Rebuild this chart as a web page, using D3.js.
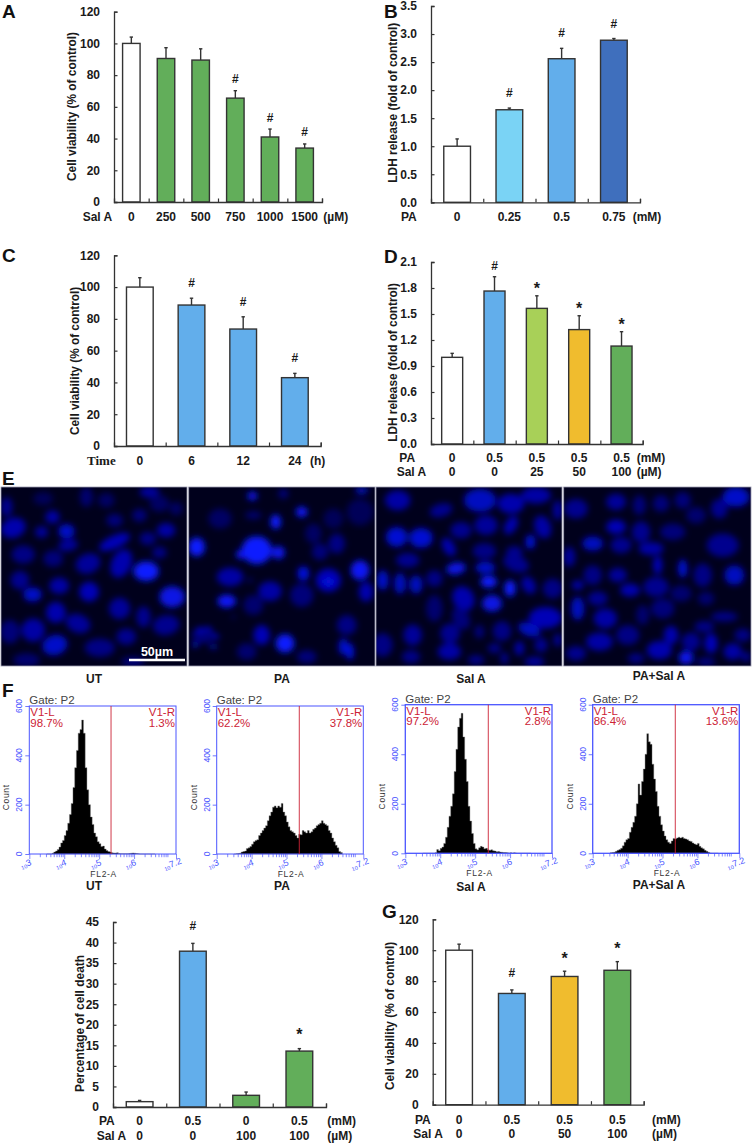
<!DOCTYPE html>
<html>
<head>
<meta charset="utf-8">
<script src="https://cdnjs.cloudflare.com/ajax/libs/d3/7.8.5/d3.min.js"></script>
<style>
  html, body { margin: 0; padding: 0; background: #fff; }
  svg { display: block; }
  text { font-family: "Liberation Sans", Arial, sans-serif; }
</style>
</head>
<body>
<svg id="fig" width="752" height="1144"></svg>
<script>
// bar panels
const doseA = ['0', '250', '500', '750', '1000', '1500'];
const meanA = [100, 90.5, 89.5, 65.5, 41, 34];
const errA = [4, 6.8, 7.1, 4.7, 5, 2.6];
const markA = ['', '', '', '#', '#', '#'];

const doseB = ['0', '0.25', '0.5', '0.75'];
const meanB = [1.0, 1.65, 2.56, 2.89];
const errB = [0.13, 0.03, 0.185, 0.03];
const markB = ['', '#', '#', '#'];

const timeC = ['0', '6', '12', '24'];
const meanC = [100, 88.7, 73.6, 43];
const errC = [5.9, 4.3, 7.7, 2.7];
const markC = ['', '#', '#', '#'];

const paD = ['0', '0.5', '0.5', '0.5', '0.5'];
const salD = ['0', '0', '25', '50', '100'];
const meanD = [1.0, 1.765, 1.565, 1.32, 1.13];
const errD = [0.046, 0.165, 0.145, 0.16, 0.166];
const markD = ['', '#', '*', '*', '*'];

const paF = ['0', '0.5', '0', '0.5'];
const salF = ['0', '0', '100', '100'];
const meanF = [1.3, 37.9, 2.84, 13.6];
const errF = [0.3, 1.9, 0.8, 0.6];
const markF = ['', '#', '', '*'];

const paG = ['0', '0.5', '0.5', '0.5'];
const salG = ['0', '0', '50', '100'];
const meanG = [100, 72, 83, 87];
const errG = [3.9, 2.3, 3.4, 5.6];
const markG = ['', '#', '*', '*'];

// flow histograms: count per bin, bins start at log10 = 3.5 and step 0.05
const histStart = 3.5, histStep = 0.05;
const histUT = [0,0,0,3,8,12,18,28,45,55,75,95,125,160,205,270,350,420,490,505,543,490,350,260,200,150,120,85,70,50,42,30,32,20,14,10,8,5,4,4,5,2,1,1,1,1,1,2,3,4,3,2,1,0,0,0,0,0,0,0,0,0,0];
const histPA = [0,1,2,3,8,10,12,22,25,30,40,50,55,58,75,85,95,105,115,135,155,170,190,195,188,195,190,205,170,155,130,110,95,90,85,75,65,80,78,95,90,85,95,85,90,100,105,115,120,125,135,125,120,115,95,85,65,50,35,25,10,6,2];
const histSal = [0,0,0,0,0,0,0,2,15,10,20,25,40,65,105,150,190,240,330,420,510,545,565,470,380,290,190,130,80,40,18,14,22,28,25,18,20,14,12,14,10,9,6,7,5,4,3,3,2,1,2,1,2,1,0,0,0,0,0,0,0,0,0];
const histCombo = [2,3,4,8,12,15,20,30,45,55,60,85,105,125,150,200,280,235,290,340,400,483,450,440,360,300,250,190,150,115,90,70,55,45,40,50,60,58,62,65,62,65,60,58,55,50,48,42,38,35,40,28,22,18,12,8,4,1,0,0,0,0,0];
const flowHists = [histUT, histPA, histSal, histCombo];
const gateLogs = [5.34, 5.366, 5.376, 5.366];
const leftPct = ['98.7%', '62.2%', '97.2%', '86.4%'];
const rightPct = ['1.3%', '37.8%', '2.8%', '13.6%'];
const sampleNames = ['UT', 'PA', 'Sal A', 'PA+Sal A'];
const countTicks = [0, 200, 400, 600];
const majorLogs = [3, 4, 5, 6, 7.2];
const logTickText = ['3', '4', '5', '6', '7.2'];
const minorCounts = [2, 3, 4, 5, 6, 7, 8, 9];

// nuclei: x, y, rx, ry, brightness, angle
const nucleiUT = [[40,188,38,30,.55,-20],[158,155,22,20,.5],[125,200,20,18,.45],[200,198,25,22,.7],[205,240,30,18,.45,-10],[345,230,50,20,.6,-25],[500,195,28,22,.5],[445,220,25,20,.35],[70,268,35,28,.35],[160,280,30,25,.3],[265,295,38,30,.45,-20],[365,295,30,45,.55,25],[440,318,38,30,1],[480,262,22,18,.35],[60,345,28,28,.4],[178,362,30,25,.5],[98,388,28,22,.7],[268,380,30,30,.6],[518,395,38,32,.85],[168,442,30,32,.55],[360,430,32,32,.45],[432,455,22,32,.4],[235,475,38,28,.45,20],[500,480,40,30,.4,-10],[100,495,35,35,.5],[30,500,30,35,.3],[165,540,38,30,.7,-15],[300,548,45,28,.35],[380,515,30,25,.4],[260,95,20,30,.25],[450,80,30,18,.45],[20,125,18,30,.4],[345,165,25,20,.3],[420,150,22,20,.3],[320,105,25,22,.2],[130,100,30,20,.15],[480,115,30,25,.2],[530,130,20,20,.2],[80,585,40,20,.25],[400,590,35,15,.3]];
const nucleiPA = [[757,92,15,13,.95],[905,140,18,16,.95],[827,170,16,22,1],[590,245,25,28,1],[770,255,45,42,1],[722,268,14,14,.95],[835,262,20,20,.9],[690,335,40,28,.5],[910,325,18,22,.8],[985,345,38,35,.6],[1080,315,28,30,.95],[810,378,35,30,.5],[680,408,28,20,.95],[1098,380,22,30,.55],[905,390,35,35,.3],[760,420,30,30,.25],[610,510,35,25,.3],[785,510,25,30,.6],[855,535,28,28,1],[1030,545,15,25,.7],[1050,560,12,25,.8],[960,260,25,25,.3],[1010,235,25,30,.35],[660,160,35,30,.2],[760,150,25,12,.25],[1040,480,30,30,.35],[740,560,30,25,.25],[920,575,30,20,.3],[1085,75,20,8,.95],[850,85,15,15,.3],[1080,140,40,40,.15],[940,205,25,30,.2],[1000,160,30,30,.15],[600,495,7,6,1],[625,490,7,5,1],[650,515,7,6,1],[585,540,9,6,1],[640,545,11,5,1],[700,455,4,4,.8],[750,345,5,5,.85],[985,350,14,10,.85]];
const nucleiSal = [[65,105,38,30,.5],[312,105,48,35,.65],[405,115,40,30,.55],[195,135,35,20,.4,-15],[480,90,45,25,.5],[545,135,15,30,.45],[62,215,32,30,.75],[135,218,35,30,.75],[255,195,32,25,.4],[330,180,35,30,.45],[405,180,18,30,.55,30],[500,185,25,35,.5,-20],[218,245,18,30,.55,-30],[325,258,35,25,.35],[463,230,15,22,.75],[415,262,25,20,.4],[95,285,35,22,.4],[240,310,30,18,.85,-10],[328,308,30,18,.7],[420,295,40,25,.4,20],[20,345,18,30,.7],[72,355,18,32,.65],[120,358,20,28,.65],[175,340,25,25,.35],[338,350,25,18,1],[402,370,17,25,1],[458,360,20,28,.5,-30],[530,370,30,30,.35],[262,400,32,38,.55,-30],[348,415,30,25,.85],[175,430,25,40,.25],[508,458,50,32,.6],[255,460,25,35,.3,-30],[460,493,35,20,.65,20],[110,510,28,32,.45],[222,505,30,30,.4],[378,498,28,30,.35],[20,540,30,35,.35],[105,575,28,20,.35],[220,560,35,25,.5],[310,500,15,20,.3],[430,550,15,22,.5],[495,540,20,22,.4],[355,550,20,15,.35],[300,585,25,15,.35],[475,590,30,15,.45],[545,525,12,20,.45],[385,580,12,18,.4]];
const nucleiCombo = [[600,130,35,30,.4],[720,110,30,25,.45],[790,120,20,30,.3],[855,115,25,25,.3],[920,105,25,25,.3],[1080,95,40,30,.7],[1030,130,25,30,.4],[720,185,30,22,.6],[795,200,28,32,.4],[890,200,38,25,.3],[960,150,30,25,.25],[650,235,32,22,.65],[735,240,32,25,.4],[825,250,38,20,.5],[1040,240,48,35,.4],[580,275,18,30,.45],[845,300,14,28,.6],[920,310,14,28,.75],[980,330,28,35,.35],[1075,330,30,30,.65],[650,330,28,30,.35],[725,330,28,22,.45],[605,360,18,15,.5],[762,375,30,20,.55],[840,365,38,30,.4],[665,400,30,22,.4],[605,430,20,35,.65],[915,385,32,25,.25],[990,400,25,20,.25],[688,460,35,30,.5],[860,430,35,30,.3],[800,450,20,30,.25],[1045,455,40,15,.35],[985,485,30,18,.35],[755,510,35,30,.35],[670,530,40,28,.5],[850,555,38,28,.55],[885,510,22,28,.55],[945,530,28,28,.4],[1005,535,20,30,.6],[1070,560,28,25,.5],[1100,510,25,20,.35],[600,565,30,22,.4],[930,578,22,20,.9],[1110,575,14,15,.4],[780,580,25,15,.35],[990,590,28,12,.35]];

const white = '#ffffff', green = '#62ae5a', sky = '#7ad3f5', blue = '#62aeeb', deep = '#3f6fbd', lime = '#a8d058', amber = '#f0bc2e';
const ink = '#333333', textInk = '#1a1a1a';
const svg = d3.select('#fig');

// panels with their layout on the page
const barPanels = [
  { letter: 'A', lx: 2, ly: 17.5, x0: 114, x1: 322, yTop: 11.7, yBase: 202, max: 120, step: 20, fmt: d3.format('d'),
    means: meanA, errs: errA, marks: markA, colors: [white, green, green, green, green, green], barW: 17.5, markGap: 11.5,
    title: 'Cell viability (% of control)', tx: 71.7, t0: 32, t1: 181,
    rows: [{ name: 'Sal A', nx: 82.7, y: 221, unit: '(µM)', ux: 323.3, vals: doseA }] },
  { letter: 'B', lx: 384, ly: 17.5, x0: 431, x1: 640, yTop: 6, yBase: 202.3, max: 3.5, step: 0.5, fmt: d3.format('.1f'),
    means: meanB, errs: errB, marks: markB, colors: [white, sky, blue, deep], barW: 26.7, markGap: 15,
    title: 'LDH release (fold of control)', tx: 393.3, t0: 22.7, t1: 182.7,
    rows: [{ name: 'PA', nx: 401, y: 221, unit: '(mM)', ux: 632.7, vals: doseB }] },
  { letter: 'C', lx: 2, ly: 261.7, x0: 114, x1: 320.7, yTop: 255.3, yBase: 446, max: 120, step: 20, fmt: d3.format('d'),
    means: meanC, errs: errC, marks: markC, colors: [white, blue, blue, blue], barW: 26.7, markGap: 15,
    title: 'Cell viability (% of control)', tx: 75, t0: 286.7, t1: 435,
    rows: [{ name: 'Time', nx: 87, y: 464.5, unit: '(h)', ux: 310, vals: timeC, serif: true }] },
  { letter: 'D', lx: 384, ly: 262.7, x0: 431, x1: 642.7, yTop: 262, yBase: 444, max: 2.1, step: 0.3, fmt: d3.format('.1f'),
    means: meanD, errs: errD, marks: markD, colors: [white, blue, lime, amber, green], barW: 21, markGap: 11,
    title: 'LDH release (fold of control)', tx: 392.7, t0: 283, t1: 441.7,
    rows: [{ name: 'PA', nx: 399.3, y: 462, unit: '(mM)', ux: 636.7, vals: paD },
           { name: 'Sal A', nx: 396.7, y: 476, unit: '(µM)', ux: 636.7, vals: salD }] },
  { letter: null, x0: 113, x1: 326, yTop: 922, yBase: 1107, max: 45, step: 5, fmt: d3.format('d'),
    means: meanF, errs: errF, marks: markF, colors: [white, blue, green, green], barW: 26.7, markGap: 17.5,
    title: 'Percentage of cell death', tx: 80, t0: 955, t1: 1092,
    rows: [{ name: 'PA', nx: 99, y: 1125, unit: '(mM)', ux: 327.3, vals: paF },
           { name: 'Sal A', nx: 96.7, y: 1139.5, unit: '(µM)', ux: 327.3, vals: salF }] },
  { letter: 'G', lx: 382, ly: 918, x0: 432.7, x1: 643.7, yTop: 919.3, yBase: 1104.7, max: 120, step: 20, fmt: d3.format('d'),
    means: meanG, errs: errG, marks: markG, colors: [white, blue, amber, green], barW: 26.7, markGap: 16.5,
    title: 'Cell viability (% of control)', tx: 390.3, t0: 941.7, t1: 1090,
    rows: [{ name: 'PA', nx: 415, y: 1123.5, unit: '(mM)', ux: 652, vals: paG },
           { name: 'Sal A', nx: 413.3, y: 1137.5, unit: '(µM)', ux: 652, vals: salG }] },
];

barPanels.forEach(drawBarPanel);

function drawBarPanel(p) {
  const g = svg.append('g');
  const n = p.means.length;
  const idx = d3.range(n);
  const x = d3.scaleBand().domain(idx).range([p.x0, p.x1]);
  const y = d3.scaleLinear().domain([0, p.max]).range([p.yBase, p.yTop]);
  const edge = d3.scaleLinear().domain([0, n]).range([p.x0, p.x1]);
  const cx = i => x(i) + x.bandwidth() / 2;

  // error whisker first so the bar outline covers its foot
  const whisker = g.append('g').attr('stroke', ink).attr('stroke-width', 1.4).attr('fill', 'none');
  idx.forEach(i => {
    whisker.append('line').attr('x1', cx(i)).attr('x2', cx(i)).attr('y1', y(p.means[i])).attr('y2', y(p.means[i] + p.errs[i]));
    whisker.append('line').attr('x1', cx(i) - 1.7).attr('x2', cx(i) + 1.7).attr('y1', y(p.means[i] + p.errs[i])).attr('y2', y(p.means[i] + p.errs[i]));
  });

  g.selectAll('rect').data(idx).join('rect')
    .attr('x', i => cx(i) - p.barW / 2)
    .attr('width', p.barW)
    .attr('y', i => y(p.means[i]))
    .attr('height', i => y(0) - y(p.means[i]))
    .attr('fill', i => p.colors[i])
    .attr('stroke', ink)
    .attr('stroke-width', 1.4);

  const yAxis = d3.axisLeft(y).tickValues(d3.range(0, p.max + p.step / 2, p.step)).tickFormat(p.fmt)
    .tickSize(-3.5).tickPadding(14);
  const gy = g.append('g').attr('transform', `translate(${p.x0},0)`).call(yAxis);
  gy.selectAll('text').attr('font-size', 12).attr('font-weight', 'bold').attr('fill', textInk);
  const gx = g.append('g').attr('transform', `translate(0,${p.yBase})`)
    .call(d3.axisBottom(edge).tickValues(d3.range(1, n + 1)).tickFormat('').tickSize(-3.5));
  [gy, gx].forEach(a => {
    a.select('.domain').attr('stroke', ink).attr('stroke-width', 1.3);
    a.selectAll('line').attr('stroke', ink).attr('stroke-width', 1.2);
  });

  p.marks.forEach((m, i) => {
    if (!m) return;
    const c = y(p.means[i] + p.errs[i]) - p.markGap;
    g.append('text').attr('x', cx(i)).attr('y', m === '*' ? c + 9 : c + 4)
      .attr('text-anchor', 'middle').attr('font-weight', 'bold')
      .attr('font-size', m === '*' ? 16 : 12).attr('fill', textInk).text(m);
  });

  g.append('text')
    .attr('transform', `translate(${p.tx + 4},${(p.t0 + p.t1) / 2}) rotate(-90)`)
    .attr('text-anchor', 'middle').attr('font-size', 12).attr('font-weight', 'bold').attr('fill', textInk)
    .attr('textLength', p.t1 - p.t0).attr('lengthAdjust', 'spacingAndGlyphs').text(p.title);

  p.rows.forEach(r => {
    const rowText = (tx, txt, anchor) => g.append('text').attr('x', tx).attr('y', r.y)
      .attr('text-anchor', anchor).attr('font-size', 12).attr('font-weight', 'bold').attr('fill', textInk).text(txt);
    const nm = rowText(r.nx, r.name, 'start');
    if (r.serif) nm.style('font-family', '"Liberation Serif", serif').attr('font-size', 13);
    rowText(r.ux, r.unit, 'start');
    r.vals.forEach((v, i) => rowText(cx(i), v, 'middle'));
  });

  if (p.letter) panelLetter(p.letter, p.lx, p.ly);
}

function panelLetter(l, lx, ly) {
  svg.append('text').attr('x', lx).attr('y', ly).attr('font-size', 19).attr('font-weight', 'bold').attr('fill', '#111').text(l);
}

// E: micrographs
panelLetter('E', 2, 485);
panelLetter('F', 2, 696.7);

const defs = svg.append('defs');
defs.append('filter').attr('id', 'soft').attr('x', '-10%').attr('y', '-10%').attr('width', '120%').attr('height', '120%')
  .append('feGaussianBlur').attr('stdDeviation', 3);
const glow = d3.scaleLinear().domain([0, 0.5, 1]).range(['#000038', '#0000a4', '#0a1cff']);

const imagePanels = [
  { nuclei: nucleiUT, dx: [3, 563], left: 1, right: 187 },
  { nuclei: nucleiPA, dx: [566, 1125], left: 188.7, right: 375 },
  { nuclei: nucleiSal, dx: [0, 558], left: 376, right: 562 },
  { nuclei: nucleiCombo, dx: [563, 1125], left: 563.7, right: 751 },
];
imagePanels.forEach((im, k) => {
  const px = d3.scaleLinear().domain(im.dx).range([im.left, im.right]);
  const py = d3.scaleLinear().domain([65, 603]).range([487, 666]);
  const k3 = (im.right - im.left) / (im.dx[1] - im.dx[0]);
  defs.append('clipPath').attr('id', 'img' + k).append('rect')
    .attr('x', im.left).attr('y', 487).attr('width', im.right - im.left).attr('height', 179);
  const g = svg.append('g');
  g.append('rect').attr('x', im.left).attr('y', 487).attr('width', im.right - im.left).attr('height', 179).attr('fill', '#00001c');
  g.append('g').attr('clip-path', `url(#img${k})`).append('g').attr('filter', 'url(#soft)')
    .selectAll('ellipse').data(im.nuclei).join('ellipse')
    .attr('rx', d => d[2] * k3).attr('ry', d => d[3] * k3)
    .attr('transform', d => `translate(${px(d[0])},${py(d[1])}) rotate(${d[5] || 0})`)
    .attr('fill', d => glow(d[4]));
  g.append('rect').attr('x', im.left).attr('y', 487).attr('width', im.right - im.left).attr('height', 179)
    .attr('fill', 'none').attr('stroke', '#9a9ab0').attr('stroke-width', 0.8);
});

svg.append('line').attr('x1', 129).attr('x2', 185).attr('y1', 660).attr('y2', 660).attr('stroke', '#fff').attr('stroke-width', 2.6);
svg.append('text').attr('x', 157).attr('y', 655.5).attr('text-anchor', 'middle').attr('font-size', 12.5).attr('font-weight', 'bold').attr('fill', '#fff').text('50µm');

// captions under micrographs and under histograms
const captionX = [94, 282, 471, 659];
const captionTop = [683, 683, 683, 680];
const captionLow = [890, 890, 891, 889];
sampleNames.forEach((s, i) => {
  [captionTop[i], captionLow[i]].forEach(cy => {
    svg.append('text').attr('x', captionX[i]).attr('y', cy).attr('text-anchor', 'middle')
      .attr('font-size', 12).attr('font-weight', 'bold').attr('fill', textInk).text(s);
  });
});

// F: flow cytometry histograms
const flowBoxes = [
  { left: 29.3, right: 176, top: 706, base: 854, line: 1 },
  { left: 216.7, right: 363.3, top: 706, base: 854, line: 1 },
  { left: 405.3, right: 552, top: 704.7, base: 853.3, line: 1.3 },
  { left: 592.7, right: 739.3, top: 704.7, base: 853.3, line: 1.3 },
];
const flowBlue = '#4a55ff', gateRed = '#cc2236';
flowBoxes.forEach((b, k) => drawFlow(b, k));

function drawFlow(b, k) {
  const g = svg.append('g');
  const x = d3.scaleLinear().domain([3, 7.2]).range([b.left, b.right]);
  const y = d3.scaleLinear().domain([0, 600]).range([b.base, b.top]);
  const hist = flowHists[k];

  const area = d3.area().curve(d3.curveStepAfter)
    .x((d, i) => x(histStart + i * histStep)).y0(y(0)).y1(d => y(d));
  g.append('path').attr('d', area(hist)).attr('fill', '#000').attr('stroke', '#777').attr('stroke-width', 0.4);

  g.append('rect').attr('x', b.left).attr('y', b.top).attr('width', b.right - b.left).attr('height', b.base - b.top)
    .attr('fill', 'none').attr('stroke', flowBlue).attr('stroke-width', b.line);
  g.append('line').attr('x1', x(gateLogs[k])).attr('x2', x(gateLogs[k])).attr('y1', b.top).attr('y2', b.base)
    .attr('stroke', gateRed).attr('stroke-width', 0.9);

  // log ticks below the box
  const minor = [];
  d3.range(3, 7).forEach(d => minorCounts.forEach(m => minor.push(d + Math.log10(m))));
  const ticks = (vals, size) => g.append('g').attr('transform', `translate(0,${b.base})`)
    .call(d3.axisBottom(x).tickValues(vals.filter(v => v <= 7.2)).tickFormat('').tickSize(size))
    .call(a => a.select('.domain').remove())
    .call(a => a.selectAll('line').attr('stroke', flowBlue).attr('stroke-width', 0.7));
  ticks(minor, 3.2);
  ticks(majorLogs, 5);
  majorLogs.forEach((v, i) => {
    const t = g.append('text').attr('transform', `translate(${x(v) - 2},${b.base + 14}) rotate(-20)`)
      .attr('text-anchor', 'middle').attr('fill', flowBlue).attr('font-size', 9);
    t.append('tspan').attr('font-size', 5.5).text('10');
    t.append('tspan').attr('dy', -1.5).text(logTickText[i]);
  });

  const gy = g.append('g').attr('transform', `translate(${b.left},0)`)
    .call(d3.axisLeft(y).tickValues(countTicks).tickSize(4).tickFormat(''));
  gy.select('.domain').remove();
  gy.selectAll('line').attr('stroke', flowBlue).attr('stroke-width', 0.8);
  countTicks.forEach(c => {
    g.append('text').attr('transform', `translate(${b.left - 7},${y(c)}) rotate(-90)`)
      .attr('text-anchor', 'middle').attr('fill', flowBlue).attr('font-size', 8.5).text(c);
  });

  g.append('text').attr('transform', `translate(${b.left - 20},${y(230)}) rotate(-90)`)
    .attr('text-anchor', 'middle').attr('font-size', 8.5).attr('letter-spacing', 0.7).attr('fill', '#333').text('Count');
  g.append('text').attr('x', (b.left + b.right) / 2 + 1).attr('y', b.base + 23).attr('text-anchor', 'middle')
    .attr('font-size', 8.5).attr('letter-spacing', 0.7).attr('fill', '#333').text('FL2-A');
  g.append('text').attr('x', b.left).attr('y', b.top - 2).attr('font-size', 11.5).attr('fill', '#444').text('Gate: P2');

  const red = (tx, ty, txt, anchor) => g.append('text').attr('x', tx).attr('y', ty).attr('text-anchor', anchor)
    .attr('font-size', 11.5).attr('fill', gateRed).text(txt);
  red(b.left + 1, b.top + 10, 'V1-L', 'start');
  red(b.left + 1, b.top + 20.5, leftPct[k], 'start');
  red(b.right - 1, b.top + 10, 'V1-R', 'end');
  red(b.right - 1, b.top + 20.5, rightPct[k], 'end');
}
</script>
</body>
</html>
